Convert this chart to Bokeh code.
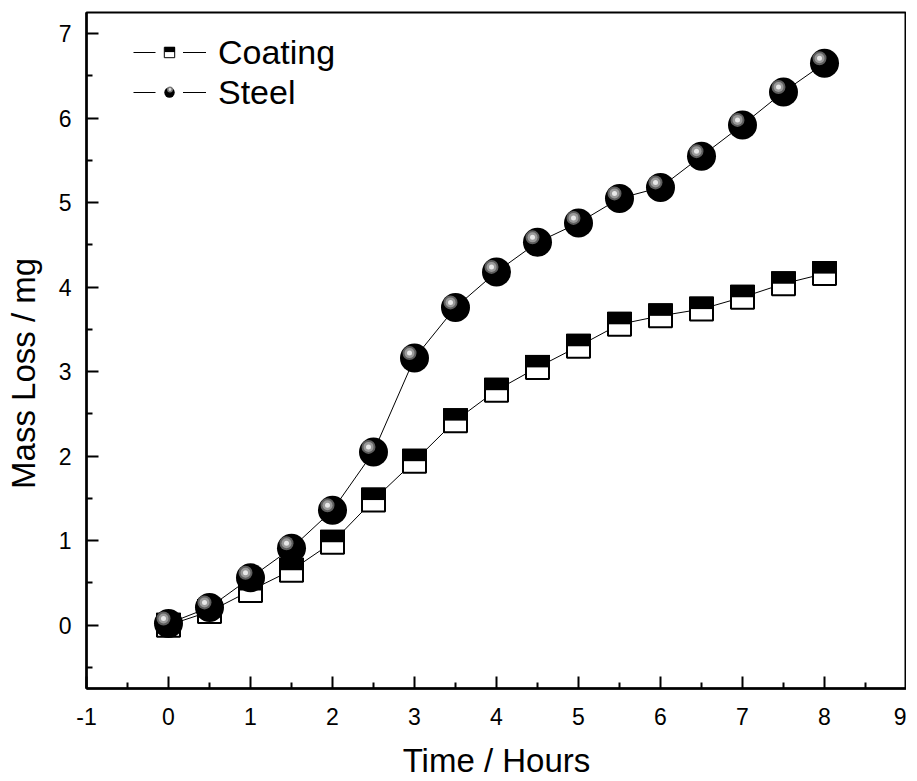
from bokeh.plotting import figure
from bokeh.models import Range1d, FixedTicker, Legend, LegendItem, ColumnDataSource
from bokeh.transform import dodge
from bokeh.embed import file_html
from bokeh.resources import INLINE

# ---- data ----
time_h = [0, 0.5, 1, 1.5, 2, 2.5, 3, 3.5, 4, 4.5, 5, 5.5, 6, 6.5, 7, 7.5, 8]
coating = [0.00, 0.16, 0.41, 0.65, 0.98, 1.48, 1.94, 2.42, 2.78, 3.05, 3.30, 3.56, 3.66, 3.74, 3.88, 4.04, 4.16]
steel = [0.02, 0.21, 0.56, 0.91, 1.36, 2.05, 3.16, 3.76, 4.18, 4.53, 4.76, 5.05, 5.18, 5.55, 5.92, 6.31, 6.65]

x_major = [-1, 0, 1, 2, 3, 4, 5, 6, 7, 8, 9]
x_minor = [-0.5, 0.5, 1.5, 2.5, 3.5, 4.5, 5.5, 6.5, 7.5, 8.5]
y_major = [0, 1, 2, 3, 4, 5, 6, 7]
y_minor = [-0.5, 0.5, 1.5, 2.5, 3.5, 4.5, 5.5, 6.5]

X_START, X_END = -1, 9
Y_START, Y_END = -0.75, 7.25
FRAME_W, FRAME_H = 820, 676
FONT = "Liberation Sans"

px_x = FRAME_W / (X_END - X_START)
px_y = FRAME_H / (Y_END - Y_START)

p = figure(frame_width=FRAME_W, frame_height=FRAME_H,
           x_range=Range1d(X_START, X_END), y_range=Range1d(Y_START, Y_END),
           output_backend="svg", toolbar_location=None,
           min_border_left=86, min_border_right=0, min_border_top=12, min_border_bottom=0)

p.xgrid.visible = False
p.ygrid.visible = False
p.outline_line_color = "black"
p.outline_line_width = 2
p.background_fill_color = "white"
p.border_fill_color = "white"

for ax, maj, mnr in ((p.xaxis[0], x_major, x_minor), (p.yaxis[0], y_major, y_minor)):
    ax.ticker = FixedTicker(ticks=maj, minor_ticks=mnr)
    ax.axis_line_width = 2.5
    ax.axis_line_color = "black"
    ax.major_tick_in = 12
    ax.major_tick_out = 0
    ax.minor_tick_in = 6
    ax.minor_tick_out = 0
    ax.major_tick_line_width = 2
    ax.minor_tick_line_width = 2
    ax.major_tick_line_color = "black"
    ax.minor_tick_line_color = "black"
    ax.major_label_text_font = FONT
    ax.major_label_text_font_size = "23px"
    ax.major_label_text_color = "black"
    ax.axis_label_text_font = FONT
    ax.axis_label_text_font_size = "33px"
    ax.axis_label_text_font_style = "normal"
    ax.axis_label_text_color = "black"

p.xaxis[0].axis_label = "Time / Hours"
# trailing no-break spaces shift the vertical title downward, as in the reference
p.yaxis[0].axis_label = "Mass Loss / mg" + "\u00a0" * 5
p.xaxis[0].major_label_overrides = {-1: "-1"}
p.xaxis[0].major_label_standoff = 19
p.xaxis[0].axis_label_standoff = 14
p.yaxis[0].major_label_standoff = 15
p.yaxis[0].axis_label_standoff = 14

cds = ColumnDataSource(dict(t=time_h, c=coating, s=steel))

line_c = p.line("t", "c", source=cds, line_color="black", line_width=1)
line_s = p.line("t", "s", source=cds, line_color="black", line_width=1)

# Coating markers: square, lower half white, upper half black
p.scatter("t", "c", source=cds, marker="square", size=23, fill_color="white",
          line_color="black", line_width=2)
p.rect(x="t", y=dodge("c", 6.25 / px_y), source=cds, width=25, height=12.5,
       width_units="screen", height_units="screen", fill_color="black", line_color=None)

# Steel markers: black sphere with highlight
p.scatter("t", "s", source=cds, marker="circle", size=29, fill_color="black", line_color=None)
hx = dodge("t", -5 / px_x)
hy = dodge("s", 5 / px_y)
p.scatter(x=hx, y=hy, source=cds, marker="circle", size=14, fill_color="#5e5e5e", line_color=None)
p.scatter(x=hx, y=hy, source=cds, marker="circle", size=10, fill_color="#9a9a9a", line_color=None)
p.scatter(x=hx, y=hy, source=cds, marker="circle", size=5, fill_color="#e8e8e8", line_color=None)

# legend-only renderers (hidden in the plot, shown only as legend glyphs)
leg_gap = p.line("t", "c", source=cds, line_color="white", line_width=5, visible=False)
leg_sq = p.scatter("t", "c", source=cds, marker="square", fill_color="white",
                   line_color="black", line_width=1, visible=False)
leg_ci = p.scatter("t", "s", source=cds, marker="circle", fill_color="black",
                   line_color=None, visible=False)
leg_half = p.line("t", "c", source=cds, line_color="black", line_width=5.2, visible=False)
leg_hi = p.scatter("t", "s", source=cds, marker="circle", fill_color="#dddddd",
                   line_color="#7a7a7a", line_width=1.5, visible=False)

GW, GH = 73, 26
GAP_W = 28
LEG_X, LEG_Y = 47, 576
SQ = 11


def style_legend(lg, gw):
    lg.glyph_width = gw
    lg.glyph_height = GH
    lg.label_height = 40
    lg.label_standoff = 12
    lg.spacing = 0
    lg.padding = 0
    lg.margin = 0
    lg.border_line_alpha = 0
    lg.background_fill_alpha = 0
    lg.label_text_font = FONT
    lg.label_text_font_size = "34px"
    lg.label_text_color = "black"
    lg.inactive_fill_alpha = 0


# main legend: connecting line + label
legA = Legend(items=[LegendItem(label="Coating", renderers=[line_c]),
                     LegendItem(label="Steel", renderers=[line_s])])
style_legend(legA, GW)
legA.location = (LEG_X, LEG_Y)

# marker layer: white gap in the line, then the symbol
legM = Legend(items=[LegendItem(label=" ", renderers=[leg_gap, leg_sq]),
                     LegendItem(label="  ", renderers=[leg_gap, leg_ci])])
style_legend(legM, GAP_W)
legM.location = (LEG_X + (GW - GAP_W) // 2, LEG_Y)

# detail layer: upper black half of the square, highlight of the sphere
legB = Legend(items=[LegendItem(label=" ", renderers=[leg_half]),
                     LegendItem(label="  ", renderers=[leg_hi])])
style_legend(legB, SQ)
legB.location = (LEG_X + (GW - SQ) // 2, LEG_Y + 3)

p.add_layout(legA, "center")
p.add_layout(legM, "center")
p.add_layout(legB, "center")

open("out.html", "w").write(file_html(p, INLINE))
